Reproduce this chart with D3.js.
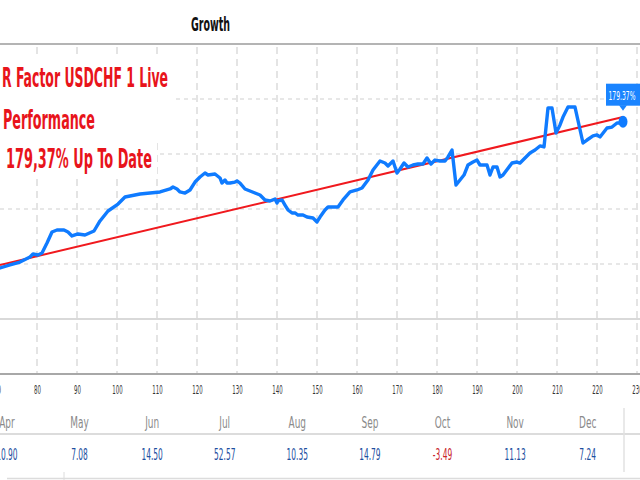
<!DOCTYPE html>
<html><head><meta charset="utf-8">
<script src="https://cdn.jsdelivr.net/npm/d3@7"></script>
<style>html,body{margin:0;padding:0;background:#fff;overflow:hidden}</style>
</head><body><svg id="c" width="640" height="480"></svg>
<script>
// ---------- data ----------
const titleText = "Growth";
const noteLines = ["R Factor USDCHF 1 Live", "Performance", "179,37% Up To Date"];
const xTicks = [70, 80, 90, 100, 110, 120, 130, 140, 150, 160, 170, 180, 190, 200, 210, 220, 230];
const yGrid = [50, 100, 150, 200];
const yZero = 0;
const growthX = [70.75,73.25,75.75,78.25,79,80.25,81.25,82.5,83.75,85,86.75,87.75,88.75,90.25,92,94.25,95.75,97.75,100.25,102,103.25,105.75,108.25,110.75,113.25,114,115,115.75,117,118.25,119.5,120.75,122,122.75,124.5,125.75,126.25,127,127.5,128.25,129.5,130,130.75,132,133.25,134.5,135.75,137,138.25,139.5,140,140.25,141.25,142,142.75,143.75,144.5,145.25,146.5,147.5,149,150,150.75,152,152.75,154,155.25,156.5,158.25,160,161.25,162.75,164,165.75,167,167.75,169,170,170.75,171.75,172.75,174,175.25,176.5,177.5,178.5,179.5,180.75,182,182.75,183.75,184.75,185.75,186.75,187.75,189,190,190.75,192.5,193.25,194,195,195.75,196.5,198.75,200,200.75,202,203.25,204.5,205.75,206.75,207.75,208.75,209.75,210.75,211.5,212.75,214.5,216.5,217.5,219,220,220.75,222.5,223.75,225,225.75,226.5];
const growthY = [46.4,49.1,51.8,56.4,59.1,58.2,60.0,69.1,79.1,80.9,80.9,79.1,75.5,77.3,76.4,80.0,89.1,98.2,104.5,110.9,111.8,113.6,114.5,115.5,118.2,120.0,118.2,115.5,114.5,117.3,124.5,129.1,132.7,130.9,131.8,128.2,123.6,126.4,123.6,123.6,124.5,125.5,123.6,118.2,116.4,114.5,112.7,108.2,107.3,109.1,105.5,107.3,108.2,103.6,99.1,96.4,96.4,94.5,94.5,92.7,91.8,88.2,92.7,99.1,101.8,101.8,101.8,108.2,115.5,117.3,119.1,126.4,135.5,143.6,141.8,139.1,143.6,132.7,136.4,141.8,138.2,140.0,140.9,140.9,146.4,140.9,144.5,143.6,143.6,147.3,153.6,121.8,126.4,130.9,140.0,142.7,144.5,140.0,140.0,130.9,138.2,138.2,129.1,130.9,141.8,142.7,141.8,146.4,150.9,153.6,157.3,156.4,191.8,191.8,169.1,176.4,183.6,192.7,192.7,160.0,162.7,166.4,167.3,165.5,173.6,174.5,178.2,178.2,179.37];
const trendX = [70.75, 226.5];
const trendY = [49.1, 183.6];
const lastValueLabel = "179.37%";
const months = ["Apr", "May", "Jun", "Jul", "Aug", "Sep", "Oct", "Nov", "Dec"];
const monthValues = [10.90, 7.08, 14.50, 52.57, 10.35, 14.79, -3.49, 11.13, 7.24];

// ---------- drawing ----------
const svg = d3.select("#c");
const narrow = "'Liberation Sans Narrow','DejaVu Sans Condensed','Liberation Sans',sans-serif";
const x = d3.scaleLinear().domain([70, 230]).range([-3, 637]);
const y = d3.scaleLinear().domain([-50, 250]).range([374, 44]);

// title
svg.append("text").attr("x", 191).attr("y", 31).text(titleText)
  .attr("font-family", narrow).attr("font-weight", "bold").attr("font-size", 19)
  .attr("fill", "#111").attr("textLength", 39).attr("lengthAdjust", "spacingAndGlyphs");

// top separator
svg.append("line").attr("x1", 0).attr("x2", 640).attr("y1", 44).attr("y2", 44)
  .attr("stroke", "#b4b4b4").attr("stroke-width", 2);

// vertical grid
svg.append("g").selectAll("line").data(xTicks).join("line")
  .attr("x1", d => x(d)).attr("x2", d => x(d)).attr("y1", 47).attr("y2", 374)
  .attr("stroke", "#d2d2d2").attr("stroke-width", 1.2).attr("stroke-dasharray", "7,5");

// horizontal grid
svg.append("g").selectAll("line").data(yGrid).join("line")
  .attr("x1", 0).attr("x2", 640).attr("y1", d => y(d)).attr("y2", d => y(d))
  .attr("stroke", "#cfcfcf").attr("stroke-width", 1.2).attr("stroke-dasharray", "4,4");
svg.append("line").attr("x1", 0).attr("x2", 640).attr("y1", y(yZero)).attr("y2", y(yZero))
  .attr("stroke", "#cccccc").attr("stroke-width", 1.5);

// x axis
const ax = svg.append("g").attr("transform", "translate(0,374)")
  .call(d3.axisBottom(x).tickValues(xTicks).tickSize(0).tickPadding(0));
ax.select(".domain").remove();
svg.append("line").attr("x1", 0).attr("x2", 640).attr("y1", 374).attr("y2", 374)
  .attr("stroke", "#a8a8a8").attr("stroke-width", 2);
ax.selectAll(".tick text")
  .attr("font-family", narrow).attr("font-size", 12).attr("fill", "#333")
  .attr("dy", 0).attr("y", 0)
  .attr("transform", "translate(0,20) scale(0.5,1)");

// white boxes behind the note text
svg.append("rect").attr("x", 0).attr("y", 58).attr("width", 176).attr("height", 82).attr("fill", "#fff");
svg.append("rect").attr("x", 0).attr("y", 140).attr("width", 157).attr("height", 34).attr("fill", "#fff");

// note text
const notePos = [{x: 2, y: 87, w: 166}, {x: 3, y: 129, w: 92}, {x: 6, y: 168, w: 146}];
svg.append("g").selectAll("text").data(noteLines).join("text")
  .attr("x", (d, i) => notePos[i].x).attr("y", (d, i) => notePos[i].y).text(d => d)
  .attr("font-family", narrow).attr("font-weight", "bold").attr("font-size", 27)
  .attr("fill", "#e8141b").attr("textLength", (d, i) => notePos[i].w)
  .attr("lengthAdjust", "spacingAndGlyphs");

// trend line
const pts = growthX.map((v, i) => [v, growthY[i]]);
const tr = trendX.map((v, i) => [v, trendY[i]]);
const line = d3.line().x(d => x(d[0])).y(d => y(d[1]));
svg.append("path").attr("d", line(tr)).attr("fill", "none")
  .attr("stroke", "#f0191e").attr("stroke-width", 2);

// growth line
svg.append("path").attr("d", line(pts)).attr("fill", "none")
  .attr("stroke", "#0f7bff").attr("stroke-width", 3.4)
  .attr("stroke-linejoin", "round").attr("stroke-linecap", "round");

// endpoint
const last = pts[pts.length - 1];
const ex = x(last[0]), ey = y(last[1]);
svg.append("ellipse").attr("cx", ex).attr("cy", ey).attr("rx", 4.5).attr("ry", 6).attr("fill", "#0f7bff");
svg.append("rect").attr("x", ex - 17).attr("y", ey - 38).attr("width", 34).attr("height", 22).attr("fill", "#1a84ff");
svg.append("path").attr("d", `M${ex - 4},${ey - 16.5}L${ex + 4},${ey - 16.5}L${ex},${ey - 11}Z`).attr("fill", "#1a84ff");
svg.append("text").attr("x", ex - 14.5).attr("y", ey - 22).text(lastValueLabel)
  .attr("font-family", narrow).attr("font-size", 13).attr("fill", "#fff")
  .attr("textLength", 27).attr("lengthAdjust", "spacingAndGlyphs");

// monthly table
const band = d3.scaleBand().domain(months).range([624 - months.length * 72.6, 624]);
svg.append("line").attr("x1", 0).attr("x2", 640).attr("y1", 434).attr("y2", 434)
  .attr("stroke", "#dcdcdc").attr("stroke-width", 2);
svg.append("line").attr("x1", 624).attr("x2", 624).attr("y1", 408).attr("y2", 472)
  .attr("stroke", "#e2e2e2").attr("stroke-width", 1.5);
svg.append("line").attr("x1", 7).attr("x2", 640).attr("y1", 478.5).attr("y2", 478.5)
  .attr("stroke", "#dcdcdc").attr("stroke-width", 1.5);
svg.append("line").attr("x1", 64).attr("x2", 64).attr("y1", 472).attr("y2", 480)
  .attr("stroke", "#dcdcdc").attr("stroke-width", 1);
svg.append("g").selectAll("text").data(months).join("text")
  .attr("transform", d => `translate(${band(d) + band.bandwidth() / 2},428) scale(0.62,1)`)
  .attr("text-anchor", "middle").text(d => d)
  .attr("font-family", narrow).attr("font-size", 16).attr("fill", "#8a8a8a");
svg.append("g").selectAll("text").data(monthValues).join("text")
  .attr("transform", (d, i) => `translate(${band(months[i]) + band.bandwidth() / 2},460) scale(0.52,1)`)
  .attr("text-anchor", "middle").text(d => d.toFixed(2))
  .attr("font-family", narrow).attr("font-size", 16)
  .attr("fill", d => d < 0 ? "#c8242b" : "#1d4f9f");
</script></body></html>
